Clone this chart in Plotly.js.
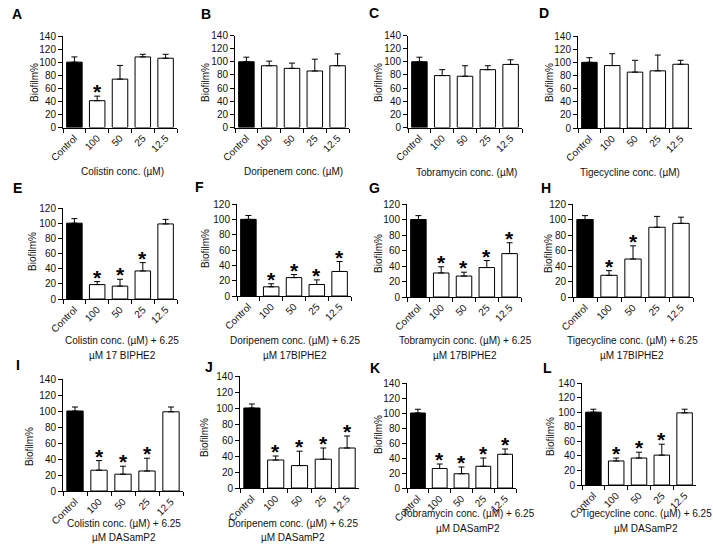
<!DOCTYPE html>
<html>
<head>
<meta charset="utf-8">
<script src="https://cdn.plot.ly/plotly-3.0.1.min.js"></script>
<style>html,body{margin:0;padding:0;background:#fff}#chart{width:713px;height:544px}</style>
</head>
<body>
<div id="chart"></div>
<script>
// ---- data ----
const categories = ["Control", "100", "50", "25", "12.5"];

const A_vals = [100, 41, 74, 108, 106]; const A_err = [8, 7, 21, 4, 6];  const A_sig = [0, 1, 0, 0, 0];
const B_vals = [100, 94, 90, 86, 94];   const B_err = [7, 7, 8, 18, 18]; const B_sig = [0, 0, 0, 0, 0];
const C_vals = [100, 79, 78, 88, 96];   const C_err = [7, 9, 16, 6, 7];  const C_sig = [0, 0, 0, 0, 0];
const D_vals = [100, 95, 85, 87, 97];   const D_err = [7, 18, 18, 24, 6]; const D_sig = [0, 0, 0, 0, 0];
const E_vals = [100, 19, 17, 37, 99];   const E_err = [6, 4, 9, 11, 6];  const E_sig = [0, 1, 1, 1, 0];
const F_vals = [100, 12, 24, 15, 32];   const F_err = [5, 4, 4, 6, 13];  const F_sig = [0, 1, 1, 1, 1];
const G_vals = [100, 31, 27, 38, 56];   const G_err = [5, 8, 5, 9, 14];  const G_sig = [0, 1, 1, 1, 1];
const H_vals = [100, 28, 49, 90, 95];   const H_err = [5, 6, 17, 14, 8]; const H_sig = [0, 1, 1, 0, 0];
const I_vals = [100, 26, 21, 25, 99];   const I_err = [5, 12, 10, 16, 6]; const I_sig = [0, 1, 1, 1, 0];
const J_vals = [100, 35, 28, 36, 50];   const J_err = [5, 5, 18, 14, 15]; const J_sig = [0, 1, 1, 1, 1];
const K_vals = [100, 26, 19, 29, 45];   const K_err = [5, 6, 9, 11, 7];  const K_sig = [0, 1, 1, 1, 1];
const L_vals = [100, 33, 37, 41, 99];   const L_err = [4, 4, 8, 15, 5];  const L_sig = [0, 1, 1, 1, 0];

const A_title = ["Colistin conc. (µM)"];
const B_title = ["Doripenem conc. (µM)"];
const C_title = ["Tobramycin conc. (µM)"];
const D_title = ["Tigecycline conc. (µM)"];
const E_title = ["Colistin conc. (µM) + 6.25", "µM 17 BIPHE2"];
const F_title = ["Doripenem conc. (µM) + 6.25", "µM 17BIPHE2"];
const G_title = ["Tobramycin conc. (µM) + 6.25", "µM 17BIPHE2"];
const H_title = ["Tigecycline conc. (µM) + 6.25", "µM 17BIPHE2"];
const I_title = ["Colistin conc. (µM) + 6.25", "µM DASamP2"];
const J_title = ["Doripenem conc. (µM) + 6.25", "µM DASamP2"];
const K_title = ["Tobramycin conc. (µM) + 6.25", "µM DASamP2"];
const L_title = ["Tigecycline conc. (µM) + 6.25", "µM DASamP2"];
const yTitle = "Biofilm%";

// ---- layout geometry (pixels) ----
const W = 713, H = 544;
const px = x => x / W, py = y => 1 - y / H;
const panels = [
  {id:"A", v:A_vals, e:A_err, s:A_sig, t:A_title, ymax:140, x0:63,  x1:177, yt:36,  yb:127.5, tx:122, ty:[171],      yx:34,  yy:83,  lx:17,  ly:14},
  {id:"B", v:B_vals, e:B_err, s:B_sig, t:B_title, ymax:140, x0:235, x1:349, yt:35.5,yb:127.5, tx:293, ty:[171],      yx:205, yy:83,  lx:206, ly:14},
  {id:"C", v:C_vals, e:C_err, s:C_sig, t:C_title, ymax:140, x0:408, x1:522, yt:35.5,yb:127.5, tx:466, ty:[172],      yx:378, yy:83,  lx:374, ly:13},
  {id:"D", v:D_vals, e:D_err, s:D_sig, t:D_title, ymax:140, x0:578, x1:692, yt:36,  yb:128,   tx:630, ty:[172],      yx:549, yy:83,  lx:544, ly:13},
  {id:"E", v:E_vals, e:E_err, s:E_sig, t:E_title, ymax:120, x0:63,  x1:177, yt:208, yb:299,   tx:122, ty:[340,355],  yx:32,  yy:252, lx:17,  ly:188},
  {id:"F", v:F_vals, e:F_err, s:F_sig, t:F_title, ymax:120, x0:237, x1:351, yt:204, yb:296,   tx:295, ty:[340,355],  yx:205, yy:249, lx:199, ly:187},
  {id:"G", v:G_vals, e:G_err, s:G_sig, t:G_title, ymax:120, x0:407, x1:521, yt:204, yb:297,   tx:465, ty:[340,355],  yx:378, yy:254, lx:375, ly:188},
  {id:"H", v:H_vals, e:H_err, s:H_sig, t:H_title, ymax:120, x0:573, x1:693, yt:204, yb:297,   tx:632, ty:[340,355],  yx:548, yy:254, lx:546, ly:188},
  {id:"I", v:I_vals, e:I_err, s:I_sig, t:I_title, ymax:140, x0:63,  x1:183, yt:379, yb:491,   tx:124, ty:[523,537],  yx:29,  yy:447, lx:18,  ly:365},
  {id:"J", v:J_vals, e:J_err, s:J_sig, t:J_title, ymax:140, x0:240, x1:359, yt:376, yb:488,   tx:293, ty:[523,537],  yx:204, yy:438, lx:209, ly:367},
  {id:"K", v:K_vals, e:K_err, s:K_sig, t:K_title, ymax:140, x0:407, x1:516, yt:383, yb:488,   tx:468, ty:[513,528],  yx:378, yy:435, lx:375, ly:368},
  {id:"L", v:L_vals, e:L_err, s:L_sig, t:L_title, ymax:140, x0:582, x1:696, yt:383, yb:485,   tx:646, ty:[513,528],  yx:550, yy:437, lx:547, ly:368}
];

const FONT = "Liberation Sans, Arial, sans-serif";
const data = [];
const layout = {
  width: W, height: H,
  margin: {l:0, r:0, t:0, b:0},
  paper_bgcolor: "#fff", plot_bgcolor: "#fff",
  font: {family: FONT, size: 10, color: "#111"},
  showlegend: false,
  annotations: []
};

panels.forEach((p, i) => {
  const n = i === 0 ? "" : String(i + 1);
  const xr = "x" + n, yr = "y" + n;
  layout["xaxis" + n] = {
    domain: [px(p.x0), px(p.x1)], anchor: yr, type: "category",
    categoryorder: "array", categoryarray: categories,
    range: [-0.5, 4.5], showline: true, linecolor: "#000", linewidth: 1,
    ticks: "outside", tickson: "boundaries", ticklen: 4, tickcolor: "#000",
    tickangle: -45, tickfont: {size: 10, color: "#111", family: FONT},
    showgrid: false, zeroline: false, fixedrange: true
  };
  layout["yaxis" + n] = {
    domain: [py(p.yb), py(p.yt)], anchor: xr,
    range: [0, p.ymax], dtick: 20, showline: true, linecolor: "#000", linewidth: 1,
    ticks: "outside", ticklen: 4, tickcolor: "#000",
    tickfont: {size: 10, color: "#111", family: FONT},
    showgrid: false, zeroline: false, fixedrange: true
  };
  data.push({
    type: "bar", x: categories, y: p.v, xaxis: xr, yaxis: yr,
    width: 0.68,
    marker: {color: categories.map((c, j) => j === 0 ? "#000" : "#fff"), line: {color: "#000", width: 1}},
    error_y: {type: "data", symmetric: false, array: p.e, arrayminus: p.e.map(() => 0),
              color: "#000", thickness: 1, width: 3},
    hoverinfo: "skip", showlegend: false
  });
  // significance stars (x given as category index)
  p.s.forEach((sg, j) => {
    if (sg) layout.annotations.push({
      xref: xr, yref: yr, x: j, y: p.v[j] + p.e[j],
      text: "<b>*</b>", showarrow: false, xanchor: "center", yanchor: "bottom", yshift: -9,
      font: {size: 21, color: "#000", family: FONT}
    });
  });
  // x title lines
  p.t.forEach((line, k) => {
    layout.annotations.push({
      xref: "paper", yref: "paper", x: px(p.tx), y: py(p.ty[k]),
      text: line, showarrow: false, xanchor: "center", yanchor: "middle",
      font: {size: 10, color: "#111", family: FONT}
    });
  });
  // y title
  layout.annotations.push({
    xref: "paper", yref: "paper", x: px(p.yx), y: py(p.yy),
    text: yTitle, textangle: -90, showarrow: false, xanchor: "center", yanchor: "middle",
    font: {size: 10, color: "#111", family: FONT}
  });
  // panel letter
  layout.annotations.push({
    xref: "paper", yref: "paper", x: px(p.lx), y: py(p.ly),
    text: "<b>" + p.id + "</b>", showarrow: false, xanchor: "center", yanchor: "middle",
    font: {size: 14, color: "#000", family: FONT}
  });
});

Plotly.newPlot("chart", data, layout, {displayModeBar: false, staticPlot: true});
</script>
</body>
</html>
